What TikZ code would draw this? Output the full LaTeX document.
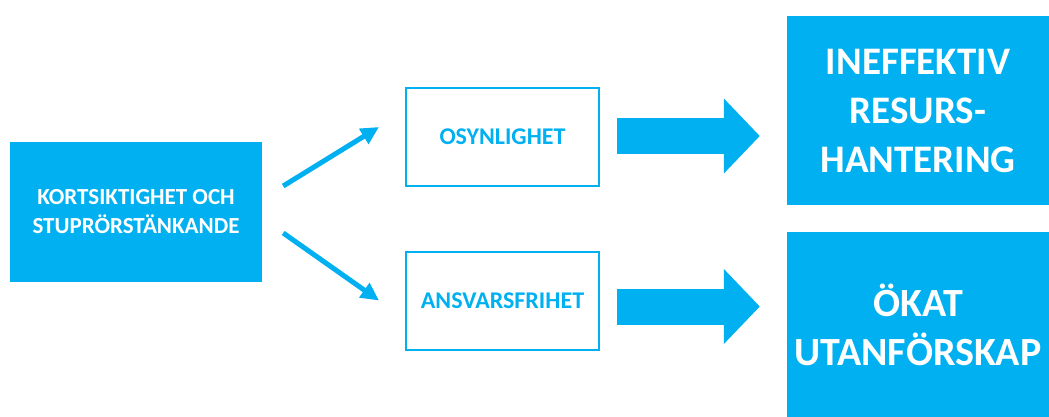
\documentclass[tikz,border=0pt]{standalone}
\usepackage{fontspec}
\setmainfont{Carlito}
\usetikzlibrary{arrows.meta}
\definecolor{cyanblue}{HTML}{00B0F0}
\tikzset{
  fillbox/.style={fill=cyanblue,text=white,font=\bfseries,align=center,inner sep=0pt},
  linebox/.style={draw=cyanblue,line width=2pt,text=cyanblue,font=\bfseries\fontsize{24}{28}\selectfont,
    minimum width=193pt,minimum height=98pt,inner sep=0pt},
  diag/.style={cyanblue,line width=5pt,-{Triangle[length=18pt,width=17pt]}},
  bigarrow/.style={cyanblue,line width=36pt,-{Triangle[length=36pt,width=73pt]},shorten <=17pt,shorten >=27pt}
}
\begin{document}
\begin{tikzpicture}[x=1pt,y=-1pt]
\useasboundingbox (0,0) rectangle (1049,417);
\node[fillbox,minimum width=252pt,minimum height=140pt,font=\bfseries\fontsize{23}{29}\selectfont] (kort) at (136,212) {KORTSIKTIGHET OCH\\STUPRÖRSTÄNKANDE};
\node[linebox] (osyn) at (502.5,137) {OSYNLIGHET};
\node[linebox] (ansvar) at (502.5,300.5) {ANSVARSFRIHET};
\node[fillbox,minimum width=262pt,minimum height=189pt,font=\bfseries\fontsize{39}{49}\selectfont] (ineff) at (918,110.5) {INEFFEKTIV\\RESURS-\\HANTERING};
\node[fillbox,minimum width=262pt,minimum height=185pt,font=\bfseries\fontsize{40}{49}\selectfont] (okat) at (918,324.5) {ÖKAT\\UTANFÖRSKAP};
\draw[diag] ([xshift=21pt,yshift=26pt]kort.east) -- ([xshift=-26pt,yshift=10pt]osyn.west);
\draw[diag] ([xshift=21pt,yshift=-21pt]kort.east) -- ([xshift=-26pt]ansvar.west);
\draw[bigarrow] ([yshift=1pt]osyn.east) -- ([yshift=1pt]osyn.east -| ineff.west);
\draw[bigarrow] ([yshift=-6pt]ansvar.east) -- ([yshift=-6pt]ansvar.east -| okat.west);
\end{tikzpicture}
\end{document}
